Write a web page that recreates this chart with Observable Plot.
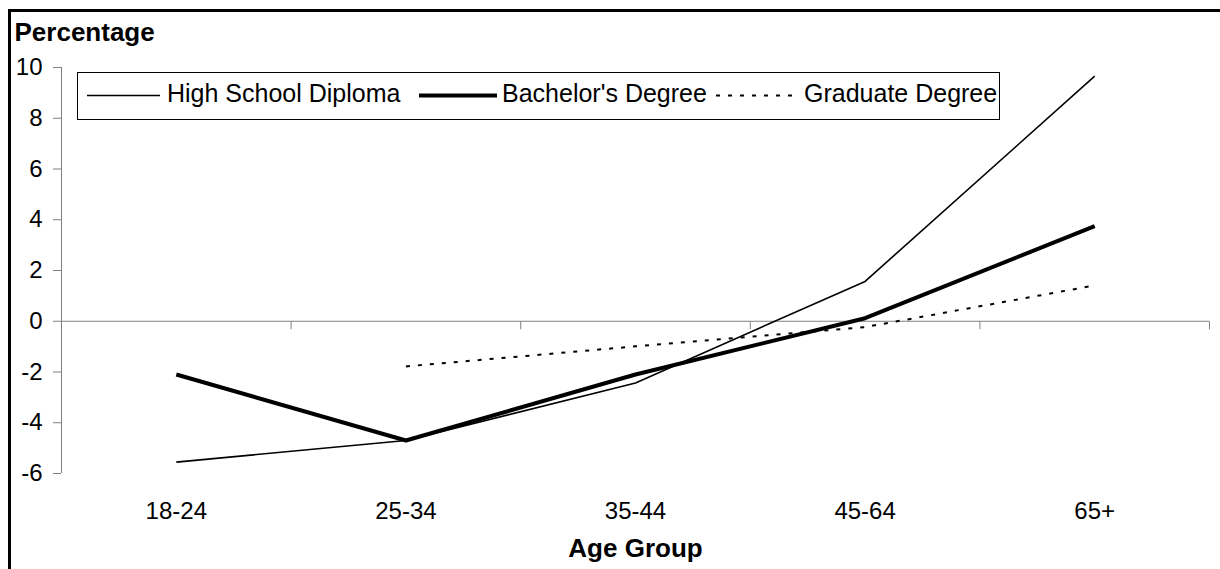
<!DOCTYPE html>
<html>
<head>
<meta charset="utf-8">
<script src="https://cdn.jsdelivr.net/npm/d3@7"></script>
<script src="https://cdn.jsdelivr.net/npm/@observablehq/plot@0.6"></script>
<style>
  body { margin: 0; background: #fff; }
  #wrap { position: relative; width: 1220px; height: 569px; overflow: hidden; background: #fff;
          font-family: "Liberation Sans", Arial, sans-serif; }
  #frame { position: absolute; left: 8px; top: 9px; width: 1400px; height: 800px;
           border-left: 3px solid #000; border-top: 3px solid #000; pointer-events: none; }
  #legend { position: absolute; left: 0; top: 0; pointer-events: none; }
</style>
</head>
<body>
<div id="wrap">
  <div id="chart"></div>
  <div id="frame"></div>
  <svg id="legend" width="1220" height="569"></svg>
</div>
<script>
// ---- data ----
const categories = ["18-24", "25-34", "35-44", "45-64", "65+"];
const highSchool = [-5.55, -4.7, -2.43, 1.57, 9.66];
const bachelors  = [-2.1, -4.7, -2.1, 0.12, 3.75];
const graduate   = [null, -1.78, -0.99, -0.23, 1.41];
const seriesNames = ["High School Diploma", "Bachelor's Degree", "Graduate Degree"];
const yTicks = [-6, -4, -2, 0, 2, 4, 6, 8, 10];

// ---- tidy table ----
const seriesValues = [highSchool, bachelors, graduate];
const rows = [];
seriesValues.forEach((vals, s) => {
  vals.forEach((v, i) => {
    if (v != null) rows.push({series: seriesNames[s], cat: categories[i], idx: i + 0.5, value: v});
  });
});
const boundaries = d3.range(categories.length + 1);

const styles = {
  "High School Diploma": {strokeWidth: 1.6, dash: null},
  "Bachelor's Degree": {strokeWidth: 4, dash: null},
  "Graduate Degree": {strokeWidth: 2, dash: "4,8"}
};

const tickDown = {
  draw(context) { context.moveTo(0, 0); context.lineTo(0, 8); }
};

const FONT = "\"Liberation Sans\", Arial, sans-serif";
const axisGray = "#808080";

const chart = Plot.plot({
  width: 1220,
  height: 569,
  marginLeft: 61,
  marginRight: 11,
  marginTop: 67,
  marginBottom: 96,
  style: {fontFamily: FONT, background: "#fff", color: "#000"},
  x: {type: "linear", domain: [0, categories.length], axis: null},
  y: {domain: [-6, 10], axis: null},
  marks: [
    Plot.ruleX([0], {stroke: axisGray, strokeWidth: 1}),
    Plot.axisY(yTicks, {
      tickSize: 8, tickPadding: 11, fontSize: 24,
      stroke: axisGray, fill: "#000", tickFormat: d => String(d), label: null
    }),
    Plot.ruleY([0], {stroke: axisGray, strokeWidth: 1}),
    Plot.dot(boundaries, {x: d => d, y: () => 0, symbol: tickDown, r: 4, stroke: axisGray, strokeWidth: 1, fill: "none"}),
    ...seriesNames.map(name => Plot.line(rows.filter(r => r.series === name), {
      x: "idx", y: "value", stroke: "#000",
      strokeWidth: styles[name].strokeWidth,
      strokeDasharray: styles[name].dash,
      strokeLinejoin: "miter", strokeLinecap: "butt"
    })),
    Plot.text(categories, {
      x: (d, i) => i + 0.5, frameAnchor: "bottom", dy: 38,
      text: d => d, fontSize: 24, lineAnchor: "middle", fill: "#000"
    }),
    Plot.text(["Age Group"], {
      frameAnchor: "bottom", dy: 75, text: d => d, fontSize: 26,
      fontWeight: "bold", lineAnchor: "middle", fill: "#000"
    }),
    Plot.text(["Percentage"], {
      frameAnchor: "top-left", dx: -47, dy: -35, text: d => d, fontSize: 26,
      fontWeight: "bold", textAnchor: "start", lineAnchor: "middle", fill: "#000"
    })
  ]
});
document.getElementById("chart").appendChild(chart);

// ---- legend ----
const leg = d3.select("#legend");
leg.append("rect")
  .attr("x", 77.5).attr("y", 72.5).attr("width", 922).attr("height", 47)
  .attr("fill", "#fff").attr("stroke", "#000").attr("stroke-width", 1);
const legItems = [
  {x1: 87, x2: 160, tx: 167},
  {x1: 419, x2: 497, tx: 502},
  {x1: 716, x2: 797, tx: 804}
];
seriesNames.forEach((name, i) => {
  const it = legItems[i];
  leg.append("line")
    .attr("x1", it.x1).attr("x2", it.x2).attr("y1", 95.5).attr("y2", 95.5)
    .attr("stroke", "#000").attr("stroke-width", styles[name].strokeWidth)
    .attr("stroke-dasharray", styles[name].dash);
  leg.append("text")
    .attr("x", it.tx).attr("y", 101.5)
    .attr("font-family", FONT).attr("font-size", 25).attr("fill", "#000")
    .text(name);
});
</script>
</body>
</html>
